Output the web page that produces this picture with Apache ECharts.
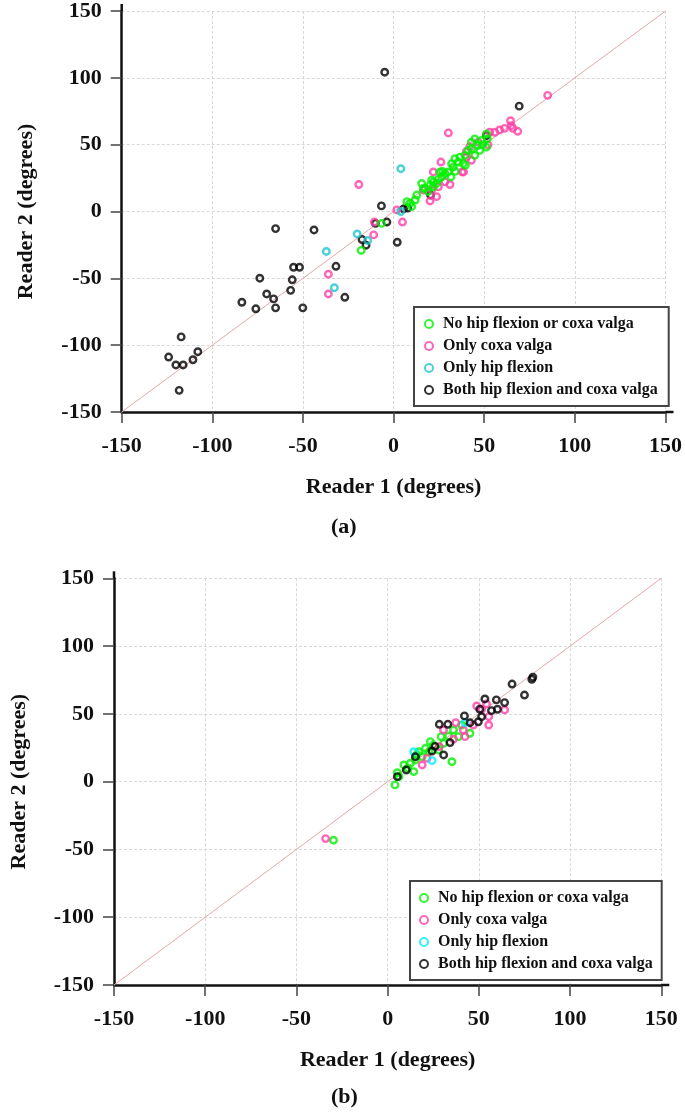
<!DOCTYPE html>
<html>
<head>
<meta charset="utf-8">
<script src="https://cdn.jsdelivr.net/npm/echarts@6/dist/echarts.min.js"></script>
<style>
html,body{margin:0;padding:0;background:#fff;}
#chart{width:685px;height:1113px;}
</style>
</head>
<body>
<div id="chart"></div>
<script>
// ---------- DATA ----------
const seriesNames = ['No hip flexion or coxa valga', 'Only coxa valga', 'Only hip flexion', 'Both hip flexion and coxa valga'];
const axisTicks = [-150, -100, -50, 0, 50, 100, 150];
const identityLine = [[-150, -150], [150, 150]];

// Panel (a)
const aNone = [[7.3,7.4],[9.1,6.2],[10,3.7],[11.9,8.6],[12.8,12.3],[15.5,21],[16.4,17.3],[20.1,19.8],[21,23.5],[21.9,18.5],[23.7,21],[24.7,24.2],[26.5,25.9],[28.3,28.4],[30.2,29.6],[31.6,25.9],[32,35.8],[32.9,33.3],[35.6,37],[36.6,40.7],[38.4,35.8],[39.3,42],[41.1,45.7],[42.9,51.9],[44.8,42],[44.8,54.3],[46.6,49.4],[47.5,45.7],[48.4,53.1],[51.2,48.1],[51.7,54.3],[51.2,58],[-6.7,-8.9],[-17.9,-29.1],[17.4,17.3],[22,22.2],[25.6,29.6],[33.8,39.5],[39.6,34.6],[19,15],[27,30],[34,30],[43,47],[49,50]];
const aCoxa = [[85,86.9],[30.2,58.8],[64.5,67.9],[64.9,64.2],[65.8,62.2],[68.5,60],[61.2,62.2],[58.5,61],[55.8,59.3],[53,59.3],[52.1,49.9],[42,48.6],[40.2,45],[40.2,40.7],[42.9,38.3],[37.8,29.6],[26.1,37],[21.9,29.6],[31.1,20.2],[24.7,18.5],[21,16],[23.7,11.1],[16.4,16],[28.3,22.2],[20.1,7.9],[1.8,1.2],[4.9,-7.9],[-10.6,-7.9],[-11,-17.5],[-19.2,20.2],[-36,-46.9],[-36,-61.7],[46.6,51.9],[38.6,29.6]];
const aFlex = [[4,32],[4,0],[-20.1,-16.8],[-14.3,-21.7],[-37.1,-29.9],[-32.7,-57]];
const aBoth = [[-4.9,104.2],[69.3,78.8],[51.2,56.8],[20.4,12.3],[7.8,2.5],[5.5,2],[-3.7,-7.9],[-6.7,4.2],[2,-23],[-10,-8.9],[-17.4,-21],[-15.2,-25.2],[-31.8,-41],[-26.9,-64.2],[-43.9,-13.8],[-65.1,-12.8],[-55.2,-41.7],[-51.9,-41.7],[-55.9,-51.1],[-56.8,-59],[-50.1,-72.1],[-73.8,-49.9],[-70,-61.7],[-66.2,-65.4],[-65.1,-72.1],[-83.7,-67.9],[-76,-72.8],[-117.2,-93.8],[-124.1,-108.9],[-120.1,-114.8],[-116.1,-114.8],[-110.7,-110.9],[-108,-104.9],[-118.3,-133.8]];

// Panel (b)
const bNone = [[4,-2.4],[6.2,3.7],[5.3,6.6],[14.3,7.4],[8.9,12.3],[12.5,13.6],[15.2,16],[17.1,22.1],[18.9,18.4],[20.7,24.6],[22.6,22.1],[23.4,29.5],[27.9,23.4],[29.3,33.2],[30.7,28.3],[33.4,33.7],[35.2,14.7],[36.1,38.1],[38.8,33.2],[40.6,41.8],[45.1,35.7],[-29.7,-43.2],[16,20],[25,27],[11,10]];
const bCoxa = [[48.8,55.8],[54.2,57.3],[64.1,52.9],[55.4,47.9],[55.4,41.8],[51.5,53.4],[47,41.8],[41.5,38.1],[37.3,43.5],[36.1,31.3],[42.4,33.2],[28.3,25.8],[18.9,12.3],[21.6,17.2],[30.6,38.1],[-34,-42]];
const bFlex = [[14.3,22.1],[24.3,15.5],[42.4,43.5]];
const bBoth = [[79.6,77],[79,75.5],[68.2,72],[75,63.9],[64.1,58.3],[59.6,60.3],[60.2,53.4],[56.9,52.4],[53.3,61],[50.5,53.4],[51.5,47.9],[49.7,44.2],[45.1,43.5],[42.1,48.5],[33,42.3],[28.3,42.3],[34.2,28.8],[30.7,19.7],[24.3,22.6],[26,26],[15.2,18.4],[10.2,8.6],[5.3,3.7]];

// ---------- STYLE ----------
const FONT = 'Liberation Serif';
const colA = ['#00f000', '#ff40a8', '#1ec6cc', '#000000'];
const colB = ['#00f000', '#ff40a8', '#00eeff', '#000000'];

function xAx(gi) {
  return {
    type: 'value', gridIndex: gi, min: -150, max: 150, interval: 50,
    name: 'Reader 1 (degrees)', nameLocation: 'middle', nameGap: 64,
    nameTextStyle: {fontFamily: FONT, fontWeight: 'bold', fontSize: 22, color: '#111'},
    axisLine: {show: true, onZero: false, lineStyle: {color: '#111', width: 2.5}},
    axisTick: {show: true, length: 11, lineStyle: {color: '#444', width: 1.5}},
    axisLabel: {margin: 23, fontFamily: FONT, fontWeight: 'bold', fontSize: 22, color: '#111',
      formatter: v => axisTicks.includes(v) ? String(v) : ''},
    splitLine: {show: true, lineStyle: {color: '#d8d8d8', width: 1, type: [3, 2]}}
  };
}
function yAx(gi) {
  return {
    type: 'value', gridIndex: gi, min: -150, max: 150, interval: 50,
    name: 'Reader 2 (degrees)', nameLocation: 'middle', nameGap: 84,
    nameTextStyle: {fontFamily: FONT, fontWeight: 'bold', fontSize: 22, color: '#111'},
    axisLine: {show: true, onZero: false, lineStyle: {color: '#111', width: 2.5}},
    axisTick: {show: true, length: 11, lineStyle: {color: '#444', width: 1.5}},
    axisLabel: {margin: 20, fontFamily: FONT, fontWeight: 'bold', fontSize: 22, color: '#111',
      formatter: v => axisTicks.includes(v) ? String(v) : ''},
    splitLine: {show: true, lineStyle: {color: '#d8d8d8', width: 1, type: [3, 2]}}
  };
}
function scat(prefix, name, data, color, gi, z) {
  return {
    type: 'scatter', name: prefix + name, xAxisIndex: gi, yAxisIndex: gi,
    data: data, symbol: 'circle', symbolSize: 6.5, z: z,
    itemStyle: {color: 'rgba(255,255,255,0)', borderColor: color, borderWidth: 2.4},
    emphasis: {disabled: true}
  };
}
function diag(gi) {
  return {
    type: 'line', xAxisIndex: gi, yAxisIndex: gi, data: identityLine,
    symbol: 'none', silent: true, z: 1,
    lineStyle: {color: '#e2a8a8', width: 1}
  };
}
function legend(prefix, left, top, padding) {
  return {
    orient: 'vertical', left: left, top: top,
    data: seriesNames.map(n => prefix + n),
    formatter: n => n.slice(prefix.length),
    itemWidth: 8, itemHeight: 8, itemGap: 6,
    padding: padding,
    backgroundColor: '#fff', borderColor: '#444', borderWidth: 2, borderRadius: 0,
    textStyle: {fontFamily: FONT, fontWeight: 'bold', fontSize: 16, lineHeight: 16, color: '#111', padding: [0, 0, 0, 5]},
    selectedMode: false
  };
}

const option = {
  animation: false,
  backgroundColor: '#fff',
  grid: [
    {left: 121.7, right: 16.7, top: 7.3, height: 404.7},
    {left: 109.3, right: 23.7, top: 578.3, height: 406.7}
  ],
  xAxis: [xAx(0), xAx(1)],
  yAxis: [yAx(0), yAx(1)],
  legend: [
    legend('a:', 414, 307, [9, 11, 8, 10]),
    legend('b:', 410, 881, [9, 9, 8, 9])
  ],
  graphic: [
    {type: 'text', left: 331, top: 516, style: {text: '(a)', font: 'bold 22px "Liberation Serif"', fill: '#111'}},
    {type: 'text', left: 331, top: 1086, style: {text: '(b)', font: 'bold 22px "Liberation Serif"', fill: '#111'}}
  ],
  series: [
    diag(0),
    scat('a:', seriesNames[3], aBoth, colA[3], 0, 3),
    scat('a:', seriesNames[1], aCoxa, colA[1], 0, 4),
    scat('a:', seriesNames[2], aFlex, colA[2], 0, 5),
    scat('a:', seriesNames[0], aNone, colA[0], 0, 6),
    diag(1),
    scat('b:', seriesNames[0], bNone, colB[0], 1, 3),
    scat('b:', seriesNames[1], bCoxa, colB[1], 1, 4),
    scat('b:', seriesNames[2], bFlex, colB[2], 1, 5),
    scat('b:', seriesNames[3], bBoth, colB[3], 1, 6)
  ]
};
const chart = echarts.init(document.getElementById('chart'), null, {renderer: 'canvas'});
chart.setOption(option);

// small axis-line overhangs past the last tick, as in the original figure
const ext = [];
[0, 1].forEach(gi => {
  const lo = chart.convertToPixel({gridIndex: gi}, [-150, -150]);
  const hi = chart.convertToPixel({gridIndex: gi}, [150, 150]);
  ext.push({type: 'line', z: 100, shape: {x1: hi[0], y1: lo[1], x2: hi[0] + 8, y2: lo[1]}, style: {stroke: '#111', lineWidth: 2.5}});
  ext.push({type: 'line', z: 100, shape: {x1: lo[0], y1: hi[1], x2: lo[0], y2: Math.max(0, hi[1] - 7)}, style: {stroke: '#111', lineWidth: 2.5}});
});
chart.setOption({graphic: option.graphic.concat(ext)});
</script>
</body>
</html>
